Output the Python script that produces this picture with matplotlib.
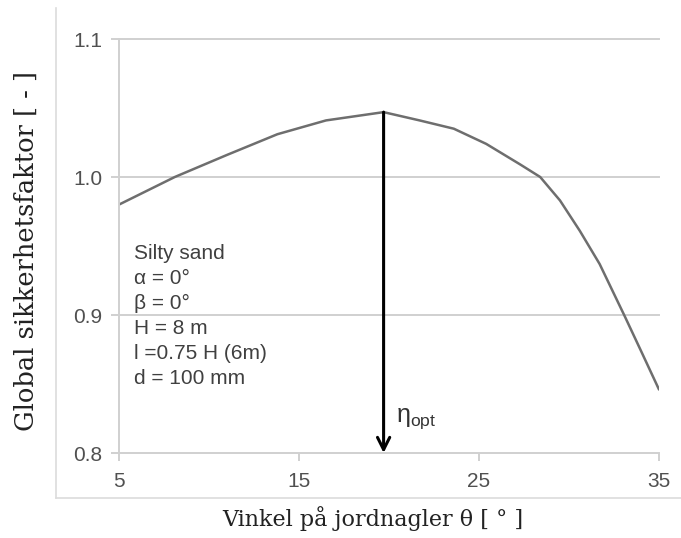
import matplotlib
matplotlib.use("Agg")
import matplotlib.pyplot as plt
from matplotlib.lines import Line2D

# vinkel paa jordnagler og global sikkerhetsfaktor (lest av figuren)
vinkel = [5, 8.1, 11, 13.8, 16.5, 19.7, 21.7, 23.6, 25.4, 27.3, 28.4, 29.5, 30.6, 31.7, 33.1, 34, 35]
sikkerhet = [0.980, 1.000, 1.016, 1.031, 1.041, 1.047, 1.041, 1.035, 1.024, 1.009,
             1.000, 0.983, 0.961, 0.937, 0.899, 0.874, 0.846]

x_ticks = [5, 15, 25, 35]
y_ticks = [0.8, 0.9, 1.0, 1.1]
y_tick_labels = ["0.8", "0.9", "1.0", "1.1"]

vinkel_opt = 19.7
sikkerhet_opt = 1.047

tekst_linjer = ["Silty sand", "α = 0°", "β = 0°", "H = 8 m", "l =0.75 H (6m)", "d = 100 mm"]

grid_farge = "#d0d0d0"
tekst_farge = "#505050"

fig = plt.figure(figsize=(6.81, 5.38), dpi=100)
ax = fig.add_axes([119 / 681, 1 - 453 / 538, 540 / 681, 414 / 538])

ax.plot(vinkel, sikkerhet, color="#6e6e6e", linewidth=1.8, solid_capstyle="round",
        solid_joinstyle="round")

ax.set_xlim(5, 35)
ax.set_ylim(0.8, 1.1)
ax.set_xticks(x_ticks)
ax.set_yticks(y_ticks)
ax.set_yticklabels(y_tick_labels)

for y in y_ticks[1:]:
    ax.axhline(y, color=grid_farge, linewidth=1.4, clip_on=False, zorder=0)

for s in ["top", "right"]:
    ax.spines[s].set_visible(False)
for s in ["left", "bottom"]:
    ax.spines[s].set_color(grid_farge)
    ax.spines[s].set_linewidth(1.4)

ax.tick_params(axis="both", colors=grid_farge, width=1.4, length=6, direction="out")
ax.tick_params(axis="both", labelcolor=tekst_farge, labelsize=15)
for lab in ax.get_xticklabels() + ax.get_yticklabels():
    lab.set_fontfamily("Liberation Sans")
ax.tick_params(axis="y", pad=6)
ax.tick_params(axis="x", pad=8)

# pil ned til optimal vinkel
ax.annotate("", xy=(vinkel_opt, 0.8), xytext=(vinkel_opt, sikkerhet_opt),
            arrowprops=dict(arrowstyle="->", color="black", linewidth=2.2,
                            mutation_scale=22, shrinkA=0, shrinkB=0))
ax.text(vinkel_opt + 0.7, 0.825, r"$\mathregular{\eta_{opt}}$", fontsize=18,
        color="#333333", family="Liberation Sans", va="center", ha="left")

ax.text(0.028, 0.505, "\n".join(tekst_linjer), transform=ax.transAxes,
        fontsize=15, family="Liberation Sans", color="#404040",
        va="top", ha="left", linespacing=1.40)

ax.set_xlabel("Vinkel på jordnagler θ [ ° ]", family="DejaVu Serif", fontsize=16,
              color="#222222")
ax.set_ylabel("Global sikkerhetsfaktor [ - ]", family="DejaVu Serif", fontsize=18.5,
              color="#222222")
ax.xaxis.set_label_coords(0.47, -0.128)
ax.yaxis.set_label_coords(-0.148, 0.488)

# ramme rundt diagramomraadet (venstre og nederst)
fig.add_artist(Line2D([55.5 / 681, 55.5 / 681], [1 - 8 / 538, 1 - 498 / 538],
                      transform=fig.transFigure, color="#dcdcdc", linewidth=1.2))
fig.add_artist(Line2D([55.5 / 681, 1.0], [1 - 498 / 538, 1 - 498 / 538],
                      transform=fig.transFigure, color="#dcdcdc", linewidth=1.2))

fig.savefig("out.png", dpi=100)
